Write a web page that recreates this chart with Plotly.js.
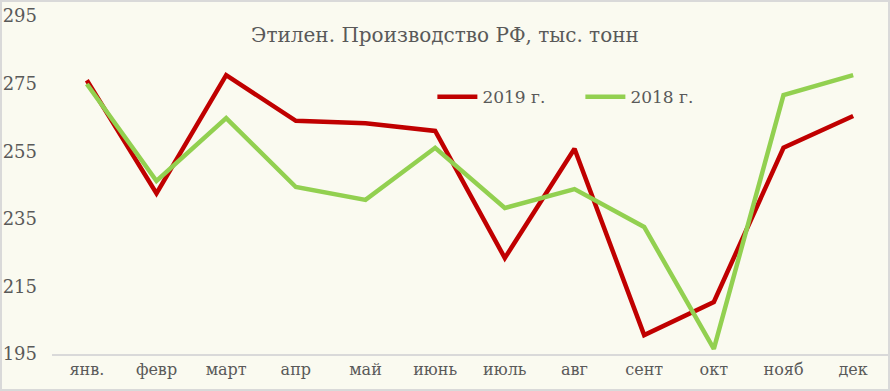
<!DOCTYPE html>
<html><head><meta charset="utf-8">
<script src="https://cdn.plot.ly/plotly-3.0.1.min.js"></script>
<style>html,body{margin:0;padding:0;background:#fff;}#chart{width:890px;height:391px;box-sizing:border-box;border:2px solid #d9d9d9;}</style>
</head><body><div id="chart"></div>
<script>
const months = ["янв.","февр","март","апр","май","июнь","июль","авг","сент","окт","нояб","дек"];
const y2019 = [276, 242.5, 277.5, 264, 263.3, 261, 223.4, 255.7, 200.6, 210.4, 256, 265.4];
const y2018 = [274.9, 246.2, 264.8, 244.4, 240.6, 256, 238.2, 243.8, 232.6, 196.5, 271.6, 277.5];
const yTicks = [195, 215, 235, 255, 275, 295];
const font = "Georgia, 'DejaVu Serif', 'Liberation Serif', serif";
const traces = [
  {x: months, y: y2019, name: "2019 г.", type: "scatter", mode: "lines", line: {color: "#C00000", width: 4.5}},
  {x: months, y: y2018, name: "2018 г.", type: "scatter", mode: "lines", line: {color: "#92D050", width: 4.5}}
];
const layout = {
  width: 886, height: 387,
  paper_bgcolor: "#FAFAF0", plot_bgcolor: "#FAFAF0",
  margin: {l: 50, r: 0, t: 14, b: 35},
  font: {family: font, color: "#595959", size: 16},
  title: {text: "Этилен. Производство РФ, тыс. тонн", x: 0.5, xanchor: "center", y: 0.915, yanchor: "middle", font: {family: font, size: 20, color: "#595959"}},
  showlegend: true,
  legend: {orientation: "h", x: 0.455, xanchor: "left", y: 0.76, yanchor: "middle", bgcolor: "rgba(0,0,0,0)", font: {family: font, size: 17, color: "#595959"}, itemwidth: 40, entrywidth: 93, entrywidthmode: "pixels", tracegroupgap: 0},
  xaxis: {type: "category", showgrid: false, showline: true, linecolor: "#d9d9d9", linewidth: 2, ticks: "", tickfont: {family: font, size: 16, color: "#595959"}, range: [-0.5, 11.5], zeroline: false},
  yaxis: {range: [195, 295], tickvals: yTicks, showgrid: false, showline: false, zeroline: false, ticks: "", tickfont: {family: font, size: 18, color: "#595959"}, ticklabelstandoff: 14}
};
Plotly.newPlot("chart", traces, layout, {displayModeBar: false});
</script></body></html>
